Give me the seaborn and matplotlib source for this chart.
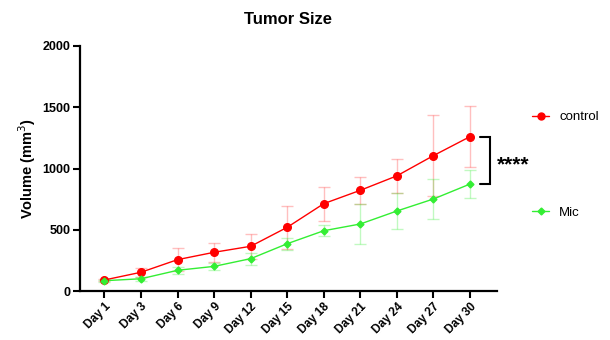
import matplotlib
matplotlib.use("Agg")
import matplotlib.pyplot as plt
import seaborn as sns
import numpy as np
import pandas as pd
from matplotlib.lines import Line2D

days = ["Day 1", "Day 3", "Day 6", "Day 9", "Day 12", "Day 15", "Day 18", "Day 21", "Day 24", "Day 27", "Day 30"]
control_mean = [90, 153, 256, 316, 365, 520, 713, 822, 940, 1105, 1260]
control_err = [10, 37, 93, 78, 103, 174, 140, 110, 140, 330, 250]
mic_mean = [84, 100, 169, 201, 264, 386, 492, 547, 653, 751, 873]
mic_err = [8, 15, 30, 30, 50, 50, 47, 163, 150, 163, 115]
yticks = [0, 500, 1000, 1500, 2000]

sns.set_theme(style="ticks")
plt.rcParams['font.family'] = ['Liberation Sans', 'DejaVu Sans']
plt.rcParams['text.color'] = 'black'
plt.rcParams['axes.labelcolor'] = 'black'
plt.rcParams['xtick.color'] = 'black'
plt.rcParams['ytick.color'] = 'black'

fig = plt.figure(figsize=(6.1, 3.4), dpi=100)
ax = fig.add_axes([80/610, 1-291/340, (497-80)/610, (291-46)/340])

pos = np.arange(len(days))
df = pd.DataFrame({
    "pos": np.concatenate([pos, pos]),
    "value": control_mean + mic_mean,
    "group": ["control"] * len(days) + ["Mic"] * len(days),
})

red = "#ff0000"
green = "#33ee33"

ax.errorbar(pos, control_mean, yerr=control_err, fmt="none", ecolor=red, alpha=0.25,
            capsize=4, elinewidth=1, capthick=1, zorder=1)
ax.errorbar(pos, mic_mean, yerr=mic_err, fmt="none", ecolor=green, alpha=0.3,
            capsize=4, elinewidth=1, capthick=1, zorder=1)

sns.lineplot(data=df, x="pos", y="value", hue="group",
             palette={"control": red, "Mic": green},
             linewidth=1, ax=ax, legend=False, zorder=2)
ax.plot(pos, control_mean, linestyle="none", marker="o", markersize=5.5, color=red,
        markeredgecolor=red, zorder=3)
ax.plot(pos, mic_mean, linestyle="none", marker="D", markersize=3.5, color=green,
        markeredgecolor=green, zorder=3)

ax.set_xlim(-0.67, 10.74)
ax.set_ylim(0, 2000)
ax.set_yticks(yticks)
ax.set_yticklabels([str(v) for v in yticks], fontweight="bold", fontsize=9)
ax.set_xticks(pos)
ax.set_xticklabels(days, rotation=45, ha="right", rotation_mode="anchor",
                   fontweight="bold", fontsize=8.5)
ax.set_xlabel("")
ax.set_ylabel("Volume (mm$^3$)", fontweight="bold", fontsize=10.5, labelpad=3)
ax.set_title("Tumor Size", fontweight="bold", fontsize=12, pad=16, color="black")

for s in ["top", "right"]:
    ax.spines[s].set_visible(False)
for s in ["left", "bottom"]:
    ax.spines[s].set_linewidth(1.6)
    ax.spines[s].set_color("black")
ax.tick_params(axis="both", direction="out", length=5, width=1.5, colors="black", pad=2)

# significance bracket
bx = 10 + 0.55
tl = 10 + 0.28
ax.plot([tl, bx, bx, tl], [control_mean[-1], control_mean[-1], mic_mean[-1], mic_mean[-1]],
        color="black", linewidth=1.5, clip_on=False, solid_joinstyle="miter")
ax.text(bx + 0.18, (control_mean[-1] + mic_mean[-1]) / 2 - 40, "****", fontsize=15,
        fontweight="bold", va="center", ha="left", color="black")

# legend
h1 = Line2D([], [], color=red, marker="o", markersize=5, linewidth=1)
h2 = Line2D([], [], color=green, marker="D", markersize=3.5, linewidth=1)
fig.legend([h1, h2], ["control", "Mic"], loc="upper left",
           bbox_to_anchor=(532/610, 1-111/340), frameon=False, fontsize=9.5,
           labelspacing=6.3, handlelength=1.3, handletextpad=0.75,
           borderpad=0, borderaxespad=0)

fig.savefig("out.png", dpi=100)
